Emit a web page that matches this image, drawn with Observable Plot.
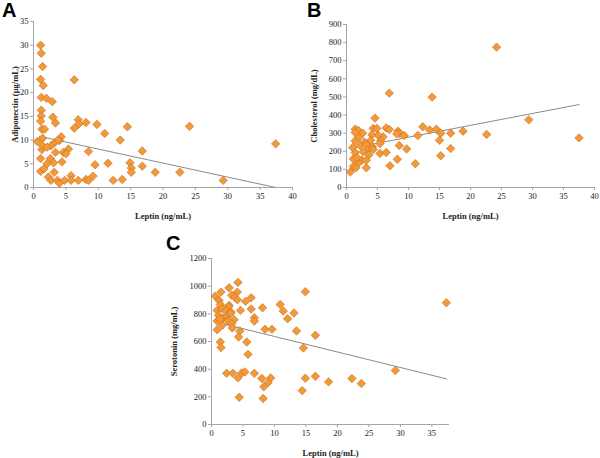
<!DOCTYPE html>
<html><head><meta charset="utf-8">
<script src="https://cdn.jsdelivr.net/npm/d3@7"></script>
<script src="https://cdn.jsdelivr.net/npm/@observablehq/plot@0.6"></script>
<style>
body{margin:0;background:#fff;}
#wrap{position:relative;width:600px;height:458px;overflow:hidden;background:#fff;}
.panel{position:absolute;overflow:visible;}
.letter{position:absolute;font-family:"Liberation Sans",Arial,sans-serif;font-weight:bold;font-size:20px;line-height:1;color:#000;}
g[aria-label$="axis label"]{font-weight:bold;}
</style></head>
<body><div id="wrap"></div>
<script>
// ---- Panel A: Leptin vs Adiponectin ----
const leptinA = [1.1,1.2,1.4,1.1,1.5,1.2,2.0,2.9,6.3,1.2,1.2,3.0,1.1,3.4,6.9,6.3,7.0,8.1,9.8,1.3,1.7,11.0,14.5,24.1,37.4,13.4,0.6,1.4,4.3,4.0,3.3,1.3,1.4,2.7,3.4,4.6,5.4,5.0,8.5,16.8,1.1,2.6,3.1,2.1,4.4,9.5,11.5,14.9,15.1,16.8,1.1,1.6,3.2,15.1,18.8,22.6,2.3,2.7,3.7,4.0,4.8,5.8,5.8,6.9,8.1,8.5,9.2,12.3,13.7,29.3,2.1,3.8];
const adiponectin = [30.0,28.3,25.5,22.8,21.5,19.0,18.8,18.1,22.7,16.3,15.1,14.8,14.0,13.6,14.3,12.5,13.4,13.7,13.3,12.3,12.3,11.4,12.8,12.9,9.2,10.0,9.7,10.4,10.7,9.9,9.5,8.0,8.8,8.8,7.4,7.4,8.1,7.1,7.6,7.7,6.1,6.1,5.2,5.0,5.4,4.8,5.1,5.2,4.1,4.5,3.4,3.9,3.2,3.2,3.2,3.2,2.2,1.5,1.5,0.9,1.5,2.5,1.5,1.5,1.7,1.5,2.4,1.5,1.7,1.5,8.5,10.0];
const trendAx = [0.9, 37.4];
const trendAy = [10.8, 0.0];

// ---- Panel B: Leptin vs Cholesterol ----
const leptinB = [24.2,6.9,13.8,4.6,29.4,12.3,1.4,1.9,1.4,2.6,4.3,4.9,6.4,6.9,8.3,8.6,9.3,8.1,11.5,13.4,14.5,15.2,16.8,18.8,22.6,37.5,15.0,16.8,15.2,11.1,7.0,8.2,8.5,9.7,5.9,5.1,4.1,5.5,5.4,3.9,2.9,1.4,2.2,3.2,4.2,3.4,4.3,5.4,6.4,1.4,2.7,3.6,1.1,2.5,3.2,1.9,1.1,1.5,3.2,0.6,1.0,2.0,1.7];
const cholesterol = [775,521,499,383,374,335,322,315,304,300,326,326,329,320,311,298,287,296,287,318,322,300,300,311,293,274,261,215,175,131,120,156,232,213,280,289,291,258,243,261,250,258,232,236,225,206,210,188,193,193,197,180,158,151,151,134,116,109,109,85,221,276,165];
const trendBx = [0.6, 37.5];
const trendBy = [216, 458];

// ---- Panel C: Leptin vs Serotonin ----
const leptinC = [4.2,2.8,1.5,4.1,14.9,0.6,3.2,3.7,4.1,1.2,5.4,6.3,1.4,2.8,2.7,37.3,10.9,0.9,1.7,2.3,3.1,4.6,6.3,8.1,11.4,13.1,1.1,1.9,2.5,3.0,3.6,6.8,6.8,12.1,0.9,1.3,2.6,3.2,1.7,3.3,0.9,4.5,8.5,9.6,13.5,16.5,4.3,1.4,5.6,1.5,14.6,5.8,29.2,2.4,3.4,4.2,4.8,5.3,6.8,8.0,9.4,9.0,8.3,14.9,16.5,18.6,22.3,23.8,14.4,4.4,8.2];
const serotonin = [1027,988,957,957,960,928,935,921,902,897,890,916,868,861,849,880,868,825,837,825,813,825,835,844,820,806,789,772,784,801,758,772,748,765,748,762,748,729,717,698,685,676,688,688,676,645,633,596,596,556,553,507,390,370,370,337,373,380,370,332,337,303,272,334,349,308,332,296,245,197,188];
const trendCx = [0.6, 37.3];
const trendCy = [742, 330];

const xLabel = "Leptin (ng/mL)";
const ticksA = [0,5,10,15,20,25,30,35];
const ticksB = [0,100,200,300,400,500,600,700,800,900];
const ticksC = [0,200,400,600,800,1000,1200];
const xTicks = [0,5,10,15,20,25,30,35,40];
const xTicksC = [0,5,10,15,20,25,30,35];

const ORANGE = "#F29A38", ORANGE_EDGE = "#C8691C", AXIS = "#a6a6a6";
const fmt = d3.format("d");

function makePanel(o) {
  const pts = o.xs.map((x, i) => ({x, y: o.ys[i]}));
  const trend = o.tx.map((x, i) => ({x, y: o.ty[i]}));
  const p = Plot.plot({
    width: o.width, height: o.height,
    marginLeft: o.m[0], marginRight: o.m[1], marginTop: o.m[2], marginBottom: o.m[3],
    style: {fontFamily: '"Liberation Serif", "Times New Roman", serif', fontSize: "8.5px", color: "#222", background: "transparent", overflow: "visible"},
    x: {domain: o.xDomain},
    y: {domain: o.yDomain},
    marks: [
      Plot.ruleY([o.yDomain[0]], {stroke: AXIS}),
      Plot.ruleX([0], {stroke: AXIS}),
      Plot.axisX({ticks: o.xTicks, tickFormat: fmt, tickSize: 3, stroke: AXIS, fill: "#222", tickPadding: 2,
        label: xLabel, labelAnchor: "center", labelArrow: "none", labelOffset: 31}),
      Plot.axisY({ticks: o.yTicks, tickFormat: fmt, tickSize: 3, stroke: AXIS, fill: "#222", tickPadding: 2,
        label: o.yLabel, labelAnchor: "center", labelArrow: "none", labelOffset: o.yLabelOffset}),
      Plot.line(trend, {x: "x", y: "y", stroke: "#8a8a8a", strokeWidth: 1}),
      Plot.dot(pts, {x: "x", y: "y", symbol: "diamond2", r: 3.8, fill: ORANGE, stroke: ORANGE_EDGE, strokeWidth: 0.6, fillOpacity: 1})
    ]
  });
  p.classList.add("panel");
  p.style.left = o.left + "px";
  p.style.top = o.top + "px";
  document.getElementById("wrap").appendChild(p);
  const L = document.createElement("div");
  L.className = "letter";
  L.textContent = o.letter;
  L.style.left = o.lx + "px";
  L.style.top = o.ly + "px";
  document.getElementById("wrap").appendChild(L);
}

makePanel({xs: leptinA, ys: adiponectin, tx: trendAx, ty: trendAy, yLabel: "Adiponectin (µg/mL)",
  yTicks: ticksA, xTicks: xTicks, xDomain: [0, 40], yDomain: [0, 35],
  width: 300, height: 230, m: [33, 8, 21, 43], left: 0, top: 0, yLabelOffset: 22,
  letter: "A", lx: 2, ly: 0});

makePanel({xs: leptinB, ys: cholesterol, tx: trendBx, ty: trendBy, yLabel: "Cholesterol (mg/dL)",
  yTicks: ticksB, xTicks: xTicks, xDomain: [0, 40], yDomain: [0, 900],
  width: 300, height: 230, m: [46, 6, 24, 43], left: 300, top: 0, yLabelOffset: 36,
  letter: "B", lx: 307, ly: 0});

makePanel({xs: leptinC, ys: serotonin, tx: trendCx, ty: trendCy, yLabel: "Serotonin (mg/mL)",
  yTicks: ticksC, xTicks: xTicksC, xDomain: [0, 37.8], yDomain: [0, 1200],
  width: 300, height: 228, m: [61, 1, 28, 34], left: 150, top: 230, yLabelOffset: 41,
  letter: "C", lx: 166, ly: 233});
</script>
</body></html>
